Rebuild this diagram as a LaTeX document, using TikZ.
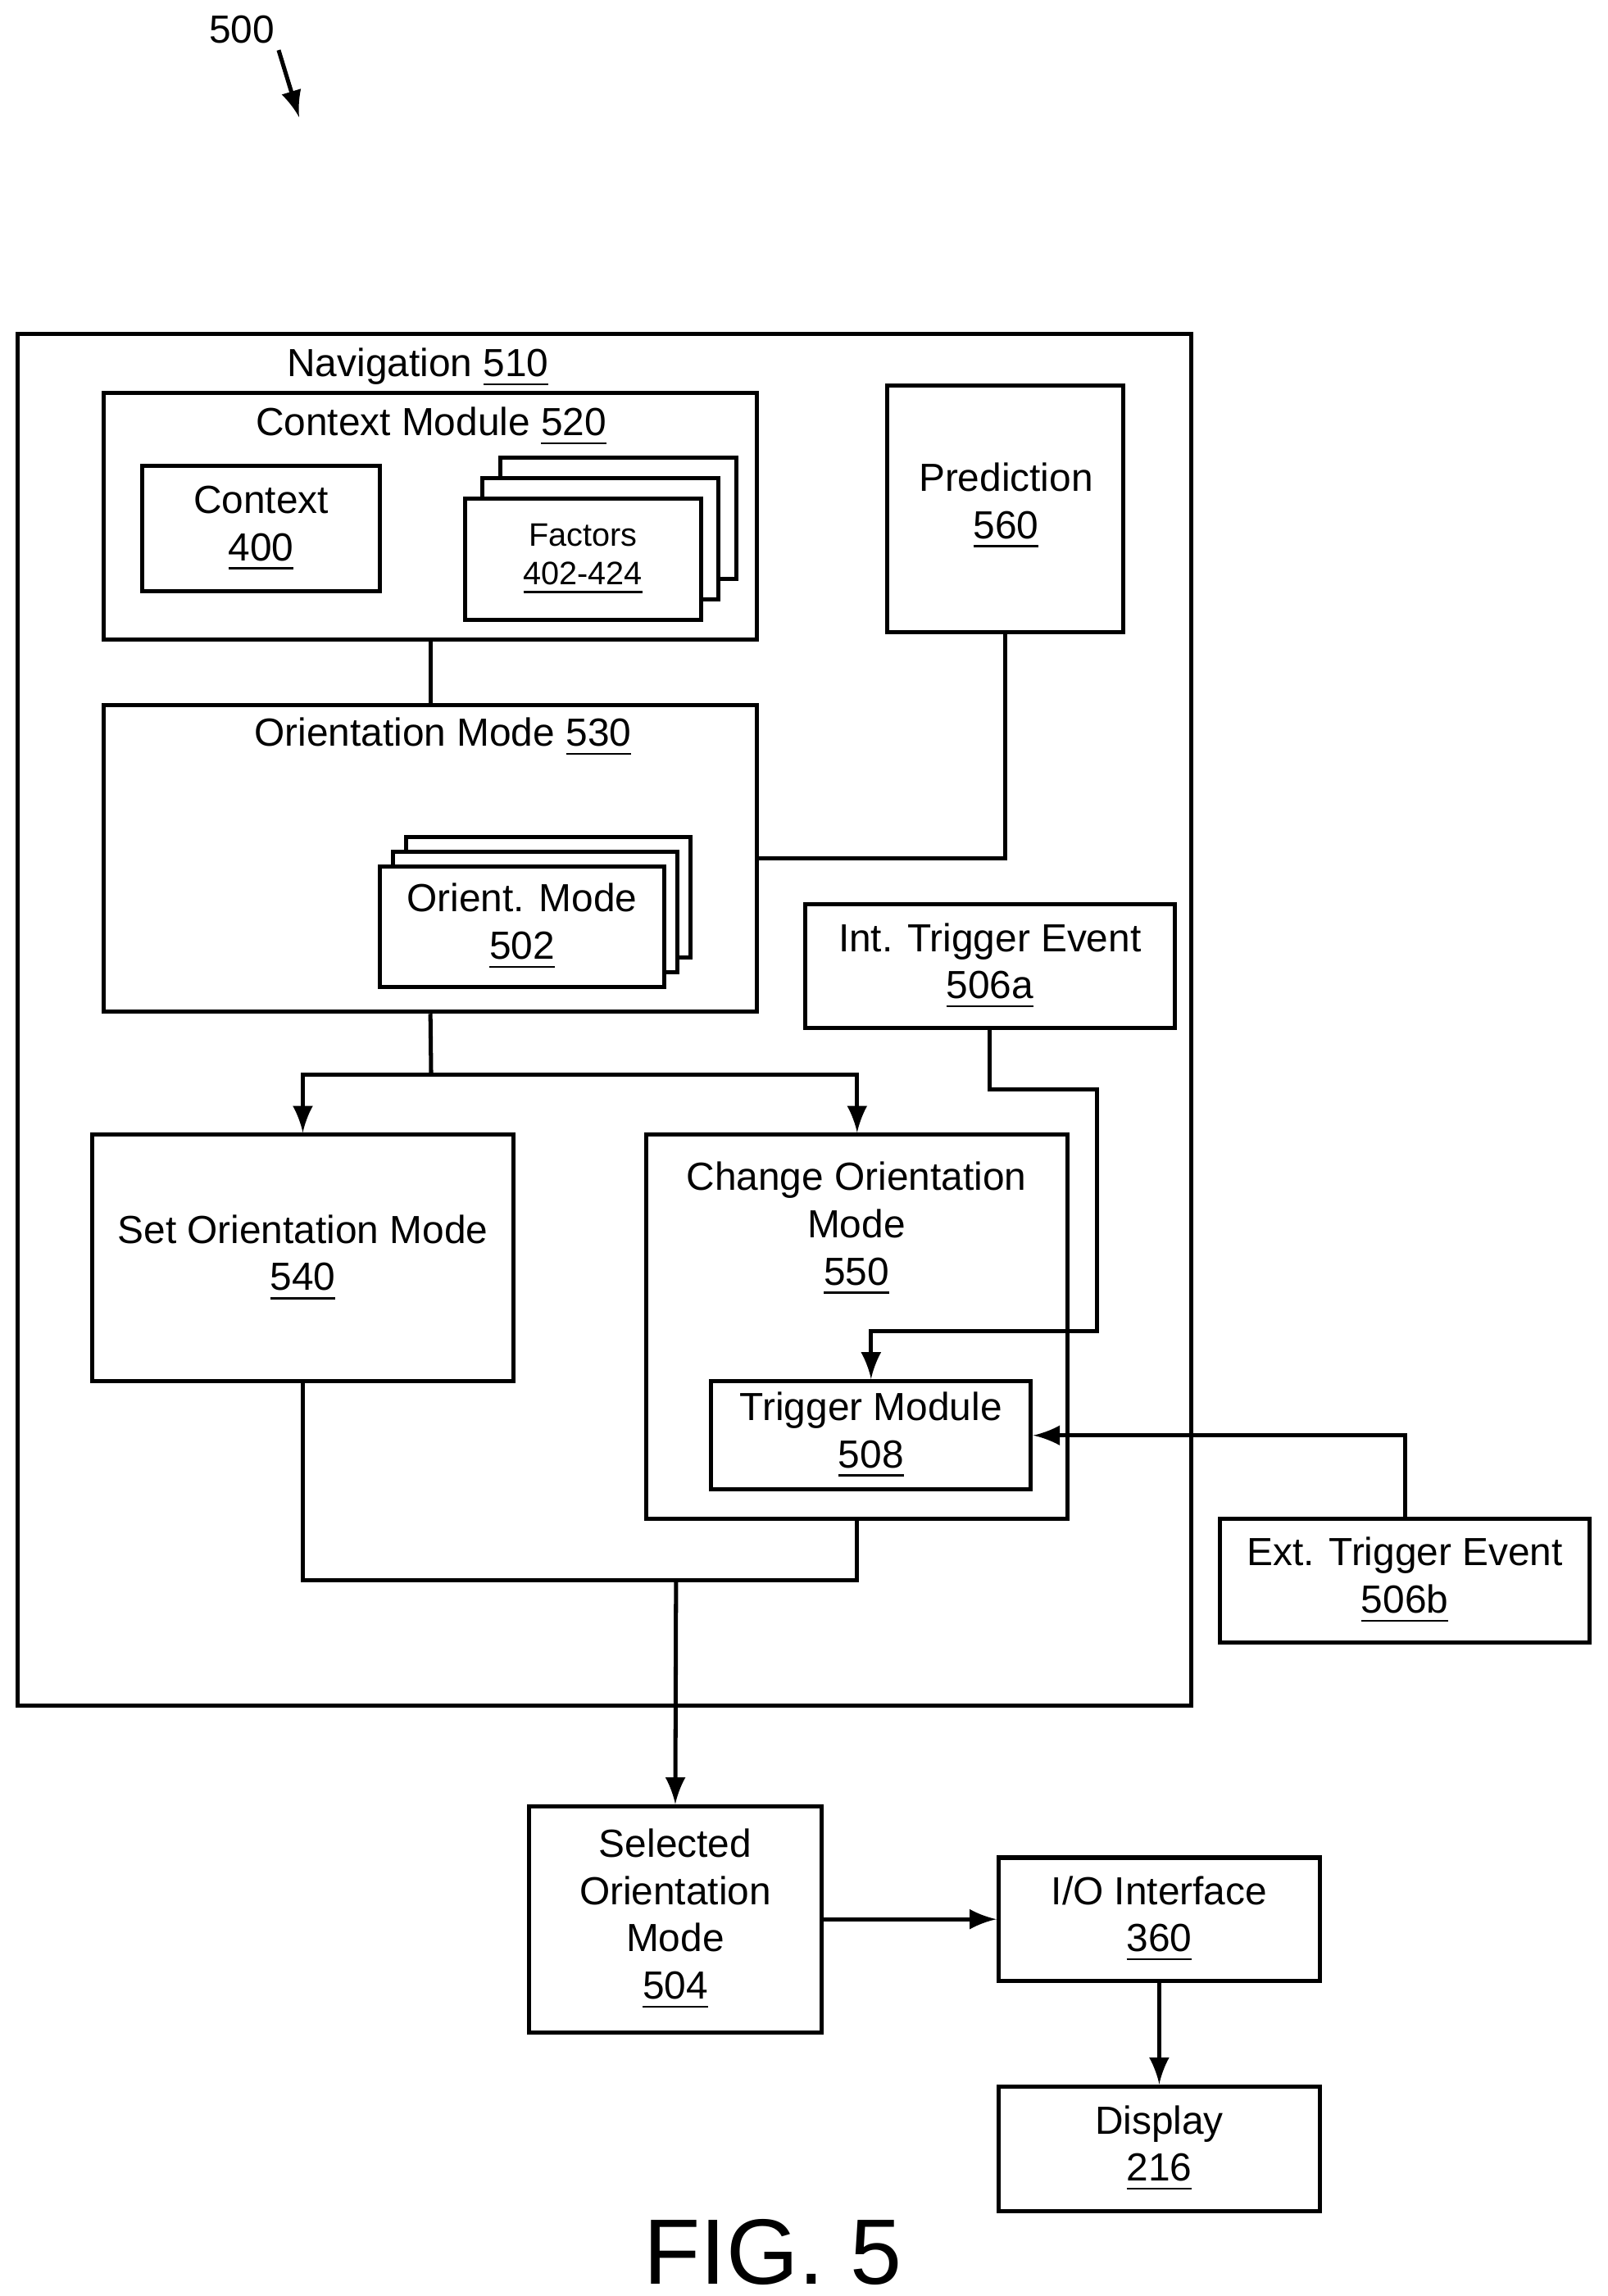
\documentclass[tikz,border=0pt]{standalone}
\usepackage{fontspec}
\setmainfont{Liberation Sans}
\usetikzlibrary{arrows}

\tikzset{
  box/.style={draw, thick, fill=white, inner sep=0pt},
  lbl/.style={align=center, inner sep=0pt, font=\fontsize{7.6}{9.2}\selectfont},
  small/.style={align=center, inner sep=0pt, font=\fontsize{6.3}{7.4}\selectfont},
  line/.style={thick},
  arr/.style={thick, -latex},
}

\begin{document}
\begin{tikzpicture}[x=0.01cm, y=-0.01cm]
  \useasboundingbox (0,0) rectangle (1096,1566);

  % figure number
  \node[lbl] (fignum) at (165,20) {500};
  \coordinate (fignumtip) at (204,80);
  \draw[arr] (fignum.south east) ++(2,4) -- (fignumtip);

  % navigation
  \node[box, minimum width=8.00cm, minimum height=9.35cm] (nav) at (412,695.5) {};
  \node[lbl] (navlbl) at (285,251) {Navigation \underline{510}};

  \node[box, minimum width=4.45cm, minimum height=1.68cm] (ctxmod) at (293.5,352) {};
  \node[lbl] (ctxmodlbl) at (294,291) {Context Module \underline{520}};
  \node[box, minimum width=1.62cm, minimum height=0.85cm, lbl] (ctx) at (178,360.5) {Context\\\underline{400}};
  \foreach \i in {2,1} {
    \node[box, minimum width=1.61cm, minimum height=0.83cm] (fact\i) at (397.5+12*\i,381.5-14*\i) {};
  }
  \node[box, minimum width=1.61cm, minimum height=0.83cm, small] (fact) at (397.5,381.5) {Factors\\\underline{402-424}};

  \node[box, minimum width=1.61cm, minimum height=1.68cm] (pred) at (685.5,347) {};
  \node[lbl] (predlbl) at (686,345) {Prediction\\\underline{560}};

  \node[box, minimum width=4.45cm, minimum height=2.09cm] (omode) at (293.5,585.5) {};
  \node[lbl] (omodelbl) at (302,503) {Orientation Mode \underline{530}};
  \foreach \i in {2,1} {
    \node[box, minimum width=1.94cm, minimum height=0.82cm] (om\i) at (356+9*\i,632-10*\i) {};
  }
  \node[box, minimum width=1.94cm, minimum height=0.82cm, lbl] (om) at (356,632) {Orient. Mode\\\underline{502}};

  \node[box, minimum width=2.52cm, minimum height=0.84cm, lbl] (int) at (675,659) {Int. Trigger Event\\\underline{506a}};

  \node[box, minimum width=2.87cm, minimum height=1.68cm, lbl] (set) at (206.5,858) {Set Orientation Mode\\\underline{540}};

  \node[box, minimum width=2.87cm, minimum height=2.62cm] (chg) at (584.5,905) {};
  \node[lbl] (chglbl) at (584,838) {Change Orientation\\Mode\\\underline{550}};
  \node[box, minimum width=2.18cm, minimum height=0.74cm, lbl] (trig) at (594,979) {Trigger Module\\\underline{508}};

  \node[box, minimum width=2.52cm, minimum height=0.84cm, lbl] (ext) at (958,1078) {Ext. Trigger Event\\\underline{506b}};

  \node[box, minimum width=1.99cm, minimum height=1.54cm, lbl] (sel) at (460.5,1309) {Selected\\Orientation\\Mode\\\underline{504}};
  \node[box, minimum width=2.19cm, minimum height=0.84cm, lbl] (io) at (790.5,1309) {I/O Interface\\\underline{360}};
  \node[box, minimum width=2.19cm, minimum height=0.85cm, lbl] (disp) at (790.5,1465.5) {Display\\\underline{216}};

  \node[font=\fontsize{18}{20}\selectfont, inner sep=0pt] (fig) at (527,1536) {FIG. 5};

  % connectors
  \coordinate (split) at (294,733);
  \coordinate (intbend) at (748,743);
  \coordinate (intdrop) at (748,908);
  \coordinate (merge) at (461,1078);

  \draw[line] (ctxmod.south) -- (omode.north);
  \draw[line] (pred.south) |- (omode.east);
  \draw[line] (omode.south) -- (split);
  \draw[arr] (split) -| (set.north);
  \draw[arr] (split) -| (chg.north);
  \draw[arr] (int.south) |- (intbend) -- (intdrop) -| (trig.north);
  \draw[arr] (ext.north) |- (trig.east);
  \draw[line] (set.south) |- (merge) -| (chg.south);
  \draw[arr] (merge) -- (sel.north);
  \draw[arr] (sel.east) -- (io.west);
  \draw[arr] (io.south) -- (disp.north);
\end{tikzpicture}
\end{document}
